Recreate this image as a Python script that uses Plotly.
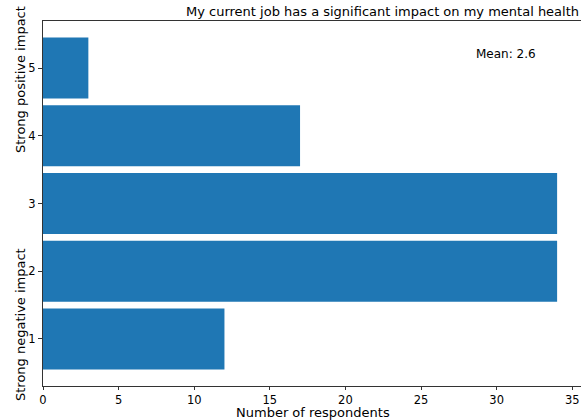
import plotly.graph_objects as go

ratings = [1, 2, 3, 4, 5]
counts = [12, 34, 34, 17, 3]
tick_vals = [0, 5, 10, 15, 20, 25, 30, 35]
title_text = "My current job has a significant impact on my mental health"
mean_text = "Mean: 2.6"
x_title = "Number of respondents"
y_low_label = "Strong negative impact"
y_high_label = "Strong positive impact"

W, H = 581, 420
L, R, T, B = 43, 0, 21, 34
FONT = "DejaVu Sans"

fig = go.Figure(go.Bar(
    x=counts, y=ratings, orientation="h", width=0.9,
    marker=dict(color="#1f77b4", line=dict(width=0)),
    hoverinfo="skip",
))

def px_x(px):
    return (px - L) / (W - L - R)

def px_y(py):
    return 1 - (py - T) / (H - T - B)

fig.update_layout(
    width=W, height=H,
    margin=dict(l=L, r=R, t=T, b=B, pad=0, autoexpand=False),
    plot_bgcolor="white", paper_bgcolor="white",
    showlegend=False,
    font=dict(family=FONT, size=12, color="#000"),
    xaxis=dict(
        range=[0, 35.58], tickvals=tick_vals, ticks="outside", ticklen=3,
        tickcolor="#333", showline=True, linecolor="#333", linewidth=1,
        mirror=True, showgrid=False, zeroline=False, automargin=False,
        tickfont=dict(size=11.5, family=FONT),
    ),
    yaxis=dict(
        range=[0.305, 5.695], tickvals=ratings, ticks="outside", ticklen=4,
        tickcolor="#333", showline=True, linecolor="#333", linewidth=1,
        showgrid=False, zeroline=False, automargin=False,
        tickfont=dict(size=11.5, family=FONT),
    ),
    annotations=[
        dict(text=title_text, xref="paper", yref="paper", x=px_x(382), y=px_y(12),
             showarrow=False, font=dict(size=13, family=FONT), xanchor="center", yanchor="middle"),
        dict(text=mean_text, xref="paper", yref="paper", x=px_x(474), y=px_y(54),
             showarrow=False, font=dict(size=12, family=FONT), xanchor="left", yanchor="middle"),
        dict(text=x_title, xref="paper", yref="paper", x=px_x(313), y=px_y(412),
             showarrow=False, font=dict(size=13, family=FONT), xanchor="center", yanchor="middle"),
        dict(text=y_high_label, xref="paper", yref="paper", x=px_x(20), y=px_y(80),
             showarrow=False, textangle=-90, font=dict(size=13, family=FONT),
             xanchor="center", yanchor="middle"),
        dict(text=y_low_label, xref="paper", yref="paper", x=px_x(20), y=px_y(325),
             showarrow=False, textangle=-90, font=dict(size=13, family=FONT),
             xanchor="center", yanchor="middle"),
    ],
)

fig.write_html("out.html", config={"displayModeBar": False},
               post_script="document.body.style.margin='0';")
